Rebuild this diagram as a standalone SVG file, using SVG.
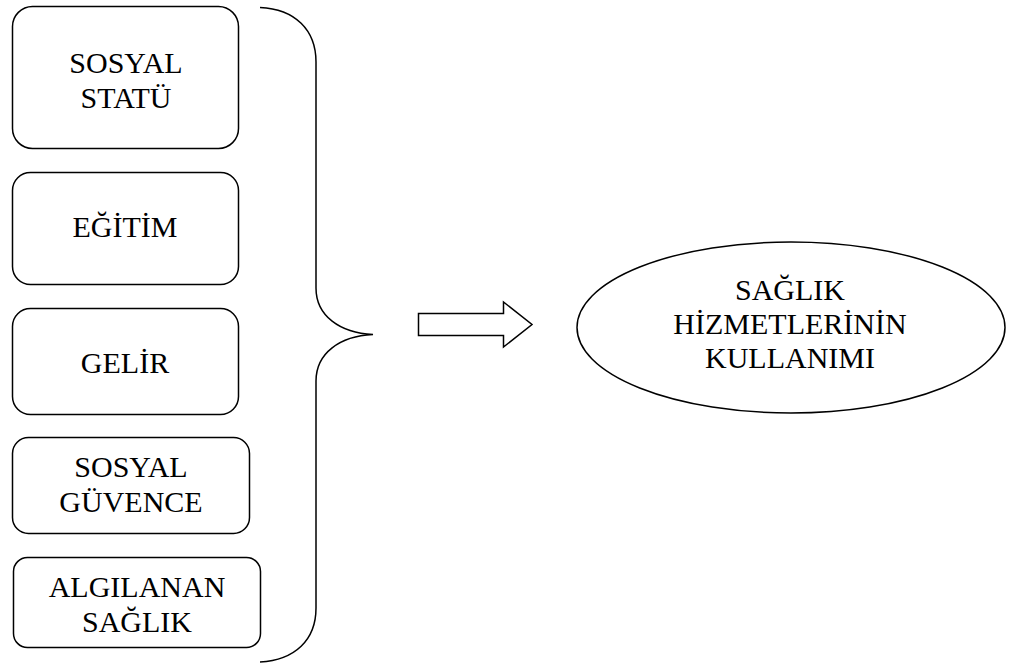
<svg xmlns="http://www.w3.org/2000/svg" width="1011" height="665" viewBox="0 0 1011 665">
<style>
.b{fill:#fff;stroke:#000;stroke-width:1.5}
.t{font-family:"Liberation Serif","Times New Roman",serif;font-size:30px;fill:#000;text-anchor:middle}
.l{fill:none;stroke:#000;stroke-width:1.5}
</style>
<rect width="1011" height="665" fill="#fff"/>
<g id="n1"><rect class="b" x="12.5" y="6.5" width="226" height="142" rx="20"/><text class="t" x="126" y="73">SOSYAL</text><text class="t" x="126" y="108">STATÜ</text></g>
<g id="n2"><rect class="b" x="12.5" y="172.5" width="226" height="112" rx="18"/><text class="t" x="125" y="237">EĞİTİM</text></g>
<g id="n3"><rect class="b" x="12.5" y="308.5" width="226" height="106" rx="18"/><text class="t" x="125" y="373">GELİR</text></g>
<g id="n4"><rect class="b" x="12.5" y="437.5" width="237" height="96" rx="16"/><text class="t" x="131" y="477">SOSYAL</text><text class="t" x="131" y="512">GÜVENCE</text></g>
<g id="n5"><rect class="b" x="13.5" y="557.5" width="247" height="90" rx="14"/><text class="t" x="137" y="597">ALGILANAN</text><text class="t" x="137" y="632">SAĞLIK</text></g>
<g id="n6"><ellipse class="b" cx="791" cy="327.5" rx="214" ry="85.5"/><text class="t" x="790" y="300">SAĞLIK</text><text class="t" x="790" y="334">HİZMETLERİNİN</text><text class="t" x="790" y="368">KULLANIMI</text></g>
<g id="connectors">
<path class="l" d="M260 7.5 C295 9 316 30 316 62 L316 288 C316 316 340 333 373 334.5 C340 336 316 353 316 381 L316 608 C316 640 295 660 260 662"/>
<path class="b" d="M418.5 313.5 L503.5 313.5 L503.5 302 L532 324.5 L503.5 347 L503.5 335.5 L418.5 335.5 Z"/>
</g>
</svg>
